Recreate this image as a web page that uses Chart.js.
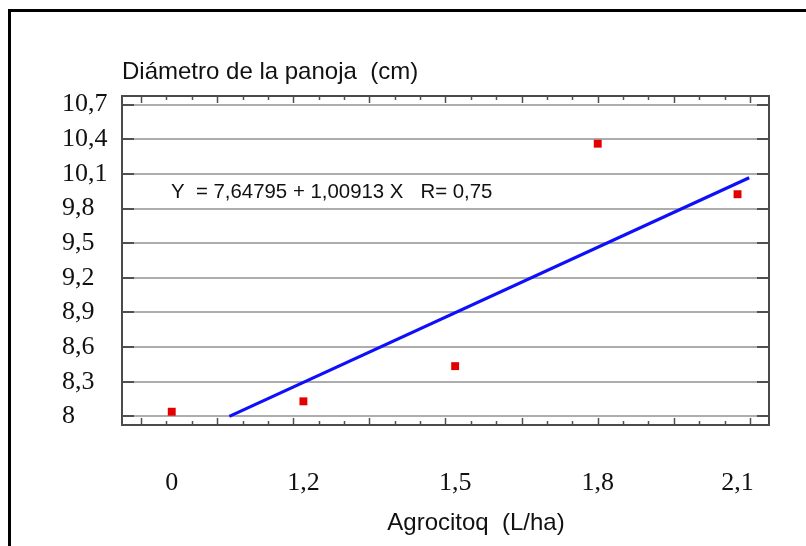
<!DOCTYPE html>
<html>
<head>
<meta charset="utf-8">
<script src="https://cdn.jsdelivr.net/npm/chart.js@4/dist/chart.umd.min.js"></script>
<style>
  html, body { margin: 0; padding: 0; background: #fff; }
  #c { display: block; }
</style>
</head>
<body>
<canvas id="c" width="806" height="546"></canvas>
<script>
// ---- data ----
const pointX = [0.121, 0.640, 1.238, 1.800, 2.351];
const pointY = [8.040, 8.130, 8.435, 10.362, 9.924];
const lineX = [0.348, 2.397];
const lineY = [8.000, 10.067];
const categoryLabels = ['0', '1,2', '1,5', '1,8', '2,1'];
const yTickValues = [8.0, 8.3, 8.6, 8.9, 9.2, 9.5, 9.8, 10.1, 10.4, 10.7];
const yTickLabels = ['8', '8,3', '8,6', '8,9', '9,2', '9,5', '9,8', '10,1', '10,4', '10,7'];
const xTickValues = [0, 0.1, 0.2, 0.3, 0.4, 0.5, 0.6, 0.7, 0.8, 0.9, 1.0, 1.1, 1.2,
                     1.3, 1.4, 1.5, 1.6, 1.7, 1.8, 1.9, 2.0, 2.1, 2.2, 2.3, 2.4];
const titleText = 'Diámetro de la panoja  (cm)';
const xTitleText = 'Agrocitoq  (L/ha)';
const equationText = 'Y  = 7,64795 + 1,00913 X   R= 0,75';

const SERIF = '"Liberation Serif", "Times New Roman", serif';
const SANS = '"Liberation Sans", Arial, sans-serif';

const framePlugin = {
  id: 'frame',
  beforeDatasetsDraw(chart) {
    const ctx = chart.ctx;
    const a = chart.chartArea;
    const xs = chart.scales.x;
    const ys = chart.scales.y;
    ctx.save();
    // y tick marks inward on left and right
    ctx.strokeStyle = '#505050';
    ctx.lineWidth = 2;
    yTickValues.forEach(v => {
      const py = Math.round(ys.getPixelForValue(v));
      ctx.beginPath();
      ctx.moveTo(a.left, py); ctx.lineTo(a.left + 12, py);
      ctx.moveTo(a.right, py); ctx.lineTo(a.right - 12, py);
      ctx.stroke();
    });
    // x tick marks inward on top and bottom
    ctx.lineWidth = 1.5;
    xTickValues.forEach((v, i) => {
      const px = Math.round(xs.getPixelForValue(v)) + 0.5;
      const len = (i % 3 === 0) ? 7 : 4;
      ctx.beginPath();
      ctx.moveTo(px, a.bottom); ctx.lineTo(px, a.bottom - len);
      ctx.moveTo(px, a.top); ctx.lineTo(px, a.top + len);
      ctx.stroke();
    });
    // plot box
    ctx.lineWidth = 2;
    ctx.strokeStyle = '#4a4a4a';
    ctx.strokeRect(a.left, a.top, a.right - a.left, a.bottom - a.top);
    ctx.restore();
  },
  afterDraw(chart) {
    const ctx = chart.ctx;
    ctx.save();
    // outer frame (top and left)
    ctx.strokeStyle = '#000';
    ctx.lineWidth = 3;
    ctx.beginPath();
    ctx.moveTo(9.5, 546); ctx.lineTo(9.5, 10.5); ctx.lineTo(806, 10.5);
    ctx.stroke();
    ctx.fillStyle = '#111';
    ctx.textBaseline = 'alphabetic';
    ctx.textAlign = 'left';
    ctx.font = '24px ' + SANS;
    ctx.fillText(titleText, 122, 79);
    ctx.textAlign = 'center';
    ctx.fillText(xTitleText, 476, 530);
    ctx.textAlign = 'left';
    ctx.font = '20.4px ' + SANS;
    ctx.fillText(equationText, 171, 198);
    ctx.restore();
  }
};

new Chart(document.getElementById('c'), {
  type: 'scatter',
  data: {
    datasets: [
      {
        label: 'observed',
        data: pointX.map((x, i) => ({ x: x, y: pointY[i] })),
        pointStyle: 'rect',
        pointRadius: 5.6,
        pointHoverRadius: 5.6,
        backgroundColor: 'rgb(226,0,0)',
        borderWidth: 0,
        xAxisID: 'x',
        order: 1
      },
      {
        label: 'fit',
        data: lineX.map((x, i) => ({ x: x, y: lineY[i] })),
        showLine: true,
        borderColor: 'rgb(15,15,250)',
        borderWidth: 3.2,
        pointRadius: 0,
        xAxisID: 'x',
        order: 2
      }
    ]
  },
  options: {
    responsive: false,
    animation: false,
    devicePixelRatio: 1,
    layout: { padding: { left: 62, top: 96, right: 37, bottom: 0 } },
    plugins: { legend: { display: false }, tooltip: { enabled: false }, title: { display: false } },
    scales: {
      x: {
        type: 'linear',
        display: false,
        min: -0.075,
        max: 2.475
      },
      xl: {
        type: 'linear',
        position: 'bottom',
        min: -0.075,
        max: 2.475,
        afterBuildTicks(scale) { scale.ticks = pointX.map(v => ({ value: v })); },
        afterFit(scale) { scale.height = 121; },
        grid: { display: false, drawTicks: false },
        border: { display: false },
        ticks: {
          autoSkip: false,
          maxRotation: 0,
          padding: 43,
          color: '#111',
          font: { family: SERIF, size: 26 },
          callback(value, index) { return categoryLabels[index]; }
        }
      },
      y: {
        type: 'linear',
        position: 'left',
        min: 7.925,
        max: 10.775,
        afterBuildTicks(scale) { scale.ticks = yTickValues.map(v => ({ value: v })); },
        afterFit(scale) { scale.width = 60; },
        grid: { color: '#adadad', lineWidth: 2, drawTicks: false },
        border: { display: false },
        ticks: {
          autoSkip: false,
          crossAlign: 'far',
          padding: 0,
          color: '#111',
          font: { family: SERIF, size: 26 },
          callback(value, index) { return yTickLabels[index]; }
        }
      }
    }
  },
  plugins: [framePlugin]
});
</script>
</body>
</html>
